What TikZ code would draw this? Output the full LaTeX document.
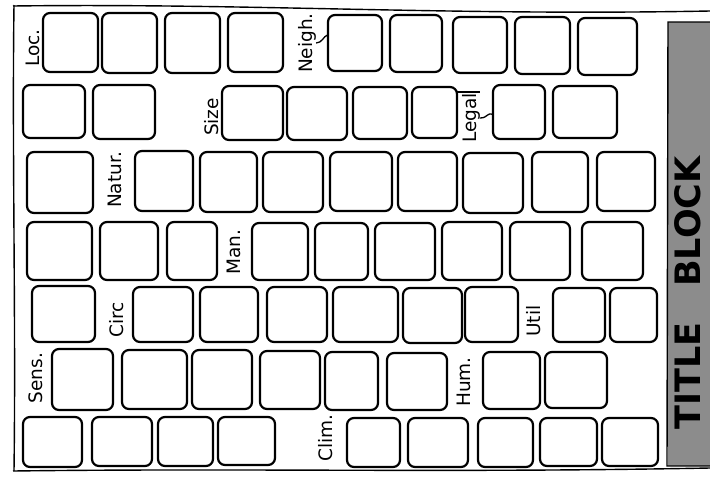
\documentclass[tikz,border=0pt]{standalone}
\usepackage{fontspec}
\newfontfamily\handfont{DejaVu Sans}
\newfontfamily\titlefont{DejaVu Sans}
\usetikzlibrary{calc}
\newcommand\cellbox[5]{\node[cell, minimum width={(#4-#2)*1pt}, minimum height={(#5-#3)*1pt}] (#1) at ({(#2+#4)/2},{(#3+#5)/2}) {};}
\begin{document}
\begin{tikzpicture}[x=1pt,y=-1pt,
  cell/.style={draw, line width=2.2pt, rounded corners=7pt, inner sep=0pt, outer sep=0pt},
  lab/.style={rotate=90, font=\handfont\fontsize{18.5}{18.5}\selectfont, inner sep=0pt},
  border/.style={line width=1.4pt},
  link/.style={line width=1.3pt}]
\useasboundingbox (0,0) rectangle (710,477);
% sheet border
\draw[border] (13,6) .. controls (250,3) and (450,16) .. (710,11);
\draw[border] (14,5) .. controls (12,150) and (16,320) .. (14,471);
\draw[border] (13,471) .. controls (250,468) and (450,473) .. (710,468);
% title block
\fill[black!45] (668,22) rectangle (712,466);
\draw[border] (712,22) -- (668,22) -- (667,466) -- (712,466);
\node[rotate=90, font=\titlefont\bfseries\fontsize{35}{35}\selectfont, inner sep=0pt] (title) at (688,293) {TITLE\hspace{36pt}BLOCK};
% row 1
\cellbox{r1c1}{43}{13}{98}{72}
\cellbox{r1c2}{102}{13}{157}{73}
\cellbox{r1c3}{165}{13}{220}{73}
\cellbox{r1c4}{228}{13}{283}{72}
\cellbox{r1c5}{328}{15}{382}{71}
\cellbox{r1c6}{390}{15}{442}{72}
\cellbox{r1c7}{453}{17}{507}{73}
\cellbox{r1c8}{515}{17}{570}{74}
\cellbox{r1c9}{578}{18}{637}{75}
% row 2
\cellbox{r2c1}{23}{85}{85}{138}
\cellbox{r2c2}{93}{85}{155}{139}
\cellbox{r2c3}{222}{86}{283}{140}
\cellbox{r2c4}{287}{87}{347}{140}
\cellbox{r2c5}{353}{87}{407}{139}
\cellbox{r2c6}{412}{87}{457}{138}
\cellbox{r2c7}{493}{85}{545}{139}
\cellbox{r2c8}{553}{86}{617}{138}
% row 3
\cellbox{r3c1}{27}{152}{93}{213}
\cellbox{r3c2}{135}{151}{193}{211}
\cellbox{r3c3}{200}{152}{257}{212}
\cellbox{r3c4}{263}{152}{323}{212}
\cellbox{r3c5}{330}{152}{392}{211}
\cellbox{r3c6}{398}{152}{457}{211}
\cellbox{r3c7}{463}{153}{523}{213}
\cellbox{r3c8}{532}{152}{588}{212}
\cellbox{r3c9}{597}{152}{655}{211}
% row 4
\cellbox{r4c1}{27}{222}{92}{280}
\cellbox{r4c2}{100}{222}{158}{280}
\cellbox{r4c3}{167}{222}{217}{280}
\cellbox{r4c4}{252}{223}{308}{280}
\cellbox{r4c5}{315}{223}{368}{280}
\cellbox{r4c6}{375}{223}{435}{280}
\cellbox{r4c7}{442}{222}{502}{280}
\cellbox{r4c8}{510}{222}{570}{280}
\cellbox{r4c9}{582}{222}{643}{280}
% row 5
\cellbox{r5c1}{32}{286}{95}{342}
\cellbox{r5c2}{133}{287}{193}{342}
\cellbox{r5c3}{200}{287}{258}{342}
\cellbox{r5c4}{267}{287}{327}{342}
\cellbox{r5c5}{333}{287}{398}{342}
\cellbox{r5c6}{403}{288}{462}{343}
\cellbox{r5c7}{465}{287}{518}{342}
\cellbox{r5c8}{553}{288}{605}{342}
\cellbox{r5c9}{610}{288}{657}{342}
% row 6
\cellbox{r6c1}{52}{349}{113}{410}
\cellbox{r6c2}{122}{350}{187}{409}
\cellbox{r6c3}{192}{350}{252}{409}
\cellbox{r6c4}{260}{351}{320}{409}
\cellbox{r6c5}{325}{352}{378}{410}
\cellbox{r6c6}{387}{353}{447}{410}
\cellbox{r6c7}{483}{352}{540}{409}
\cellbox{r6c8}{545}{352}{607}{408}
% row 7
\cellbox{r7c1}{23}{417}{82}{467}
\cellbox{r7c2}{92}{417}{152}{466}
\cellbox{r7c3}{158}{417}{213}{466}
\cellbox{r7c4}{218}{417}{275}{465}
\cellbox{r7c5}{347}{418}{400}{467}
\cellbox{r7c6}{408}{418}{468}{467}
\cellbox{r7c7}{478}{418}{533}{467}
\cellbox{r7c8}{540}{418}{597}{466}
\cellbox{r7c9}{602}{418}{658}{466}
% labels
\node[lab] (loc) at (33,48) {Loc.};
\node[lab] (neigh) at (307,43) {Neigh.};
\node[lab] (size) at (212,117) {Size};
\node[lab] (legal) at (471,118) {Legal};
\node[lab] (natur) at (115,180) {Natur.};
\node[lab] (man) at (234,252) {Man.};
\node[lab] (circ) at (117,320) {Circ};
\node[lab] (util) at (534,321) {Util};
\node[lab] (sens) at (36,378) {Sens.};
\node[lab] (hum) at (464,382) {Hum.};
\node[lab] (clim) at (326,438) {Clim.};
% connectors
\draw[link] (neigh.south) .. controls +(6,0) and +(-5,2) .. ($(r1c5.north west)!0.35!(r1c5.south west)$);
\coordinate (lgA) at ($(r2c6.north east)+(0,5)$);
\draw[link] (lgA) -- (lgA -| legal.south east);
\draw[link] (legal.south) .. controls +(8,0) and +(-6,-3) .. ($(r2c7.north west)!0.55!(r2c7.south west)$);
\end{tikzpicture}
\end{document}
